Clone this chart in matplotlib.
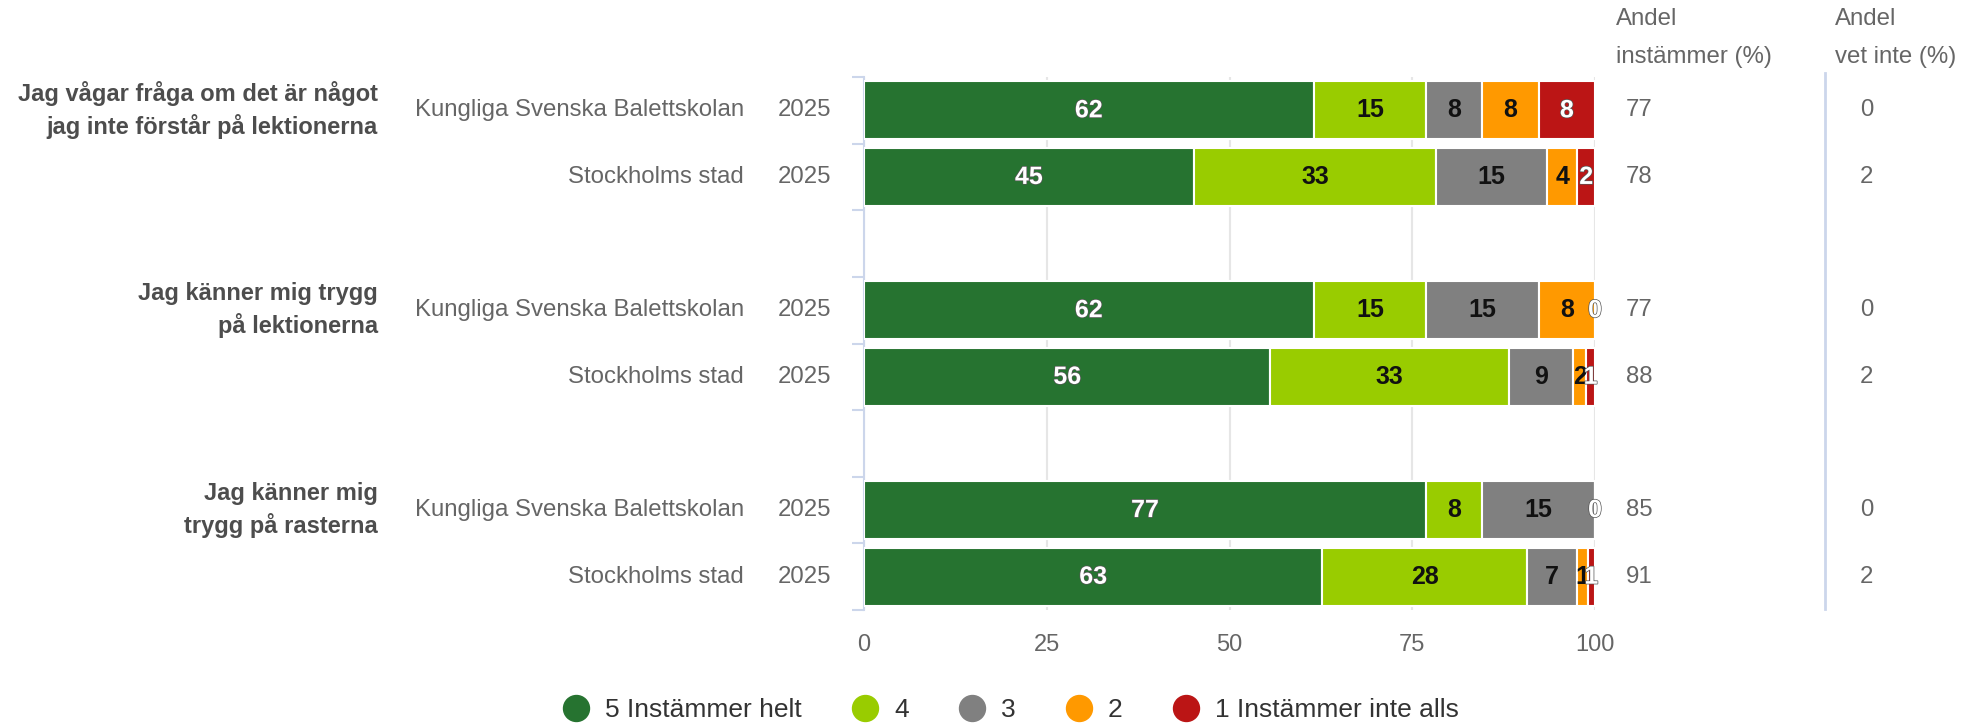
import numpy as np
import matplotlib.pyplot as plt
import matplotlib.transforms as mtransforms
import matplotlib.patheffects as pe
from matplotlib.lines import Line2D

plt.rcParams['font.family'] = ['Liberation Sans', 'DejaVu Sans']

# data
questions = ['Jag vågar fråga om det är något\njag inte förstår på lektionerna',
             'Jag känner mig trygg\npå lektionerna',
             'Jag känner mig\ntrygg på rasterna']
schools = ['Kungliga Svenska Balettskolan', 'Stockholms stad'] * 3
years = ['2025'] * 6
row_pos = [0, 1, 3, 4, 6, 7]

series_names = ['5 Instämmer helt', '4', '3', '2', '1 Instämmer inte alls']
s5 = [61.5, 45.1, 61.5, 55.6, 76.9, 62.7]
s4 = [15.4, 33.2, 15.4, 32.6, 7.7, 28.0]
s3 = [7.7, 15.1, 15.4, 8.8, 15.4, 6.9]
s2 = [7.7, 4.2, 7.7, 1.8, 0.0, 1.4]
s1 = [7.7, 2.4, 0.0, 1.2, 0.0, 1.0]
andel_instammer = [77, 78, 77, 88, 85, 91]
andel_vet_inte = [0, 2, 0, 2, 0, 2]

colors = ['#267330', '#99cc00', '#808080', '#ff9900', '#bb1515']
label_colors = ['white', '#111111', '#111111', '#111111', 'white']

W, H = 1978, 727
fig = plt.figure(figsize=(W / 100, H / 100), dpi=100)
ax = fig.add_axes([864 / W, 1 - 610 / H, 731 / W, 533 / H])

left = np.zeros(len(row_pos))
for k, (vals, name) in enumerate(zip([s5, s4, s3, s2, s1], series_names)):
    vals = np.array(vals)
    ax.barh(row_pos, vals, left=left, height=0.87, color=colors[k],
            edgecolor='white', linewidth=1.5, label=name, zorder=3)
    for y, l, v in zip(row_pos, left, vals):
        # only the last zero in a row gets a label (others overlap)
        if v == 0 and k < 4:
            continue
        t = ax.text(l + v / 2, y, f'{v:.0f}', ha='center', va='center',
                    fontsize=18, fontweight='bold', color=label_colors[k],
                    zorder=5, clip_on=False)
        if label_colors[k] == 'white':
            t.set_path_effects([pe.withStroke(linewidth=1, foreground='#555555')])
    left += vals

ax.set_xlim(0, 100)
ax.set_ylim(7.5, -0.5)
ax.set_xticks([0, 25, 50, 75, 100])
ax.grid(axis='x', color='#e6e6e6', linewidth=1.5, zorder=0)
ax.tick_params(axis='x', length=0, labelsize=17, labelcolor='#666666', pad=17)
ax.set_yticks(np.arange(-0.5, 8, 1))
ax.set_yticklabels([])
ax.tick_params(axis='y', length=9, width=1.5, color='#ccd6eb')
for sp in ['top', 'right', 'bottom']:
    ax.spines[sp].set_visible(False)
ax.spines['left'].set_color('#ccd6eb')
ax.spines['left'].set_linewidth(1.5)

tr = mtransforms.blended_transform_factory(fig.transFigure, ax.transData)
for i, y in enumerate(row_pos):
    ax.text(744 / W, y, schools[i], transform=tr, ha='right', va='center',
            fontsize=17.3, color='#666666')
    ax.text(831 / W, y, years[i], transform=tr, ha='right', va='center',
            fontsize=17.3, color='#666666')
    ax.text(1626 / W, y, str(andel_instammer[i]), transform=tr, ha='left',
            va='center', fontsize=17.3, color='#666666')
    ax.text(1860 / W, y, str(andel_vet_inte[i]), transform=tr, ha='left',
            va='center', fontsize=17.3, color='#666666')
for q, y in zip(questions, row_pos[::2]):
    ax.text(378 / W, y, q, transform=tr, ha='right', va='center',
            fontsize=17, fontweight='bold', color='#4d4d4d', linespacing=1.4)

fig.text(1616 / W, 1 - 38 / H, 'Andel\ninstämmer (%)', ha='left', va='center',
         fontsize=17.3, color='#666666', linespacing=1.9)
fig.text(1835 / W, 1 - 38 / H, 'Andel\nvet inte (%)', ha='left', va='center',
         fontsize=17.3, color='#666666', linespacing=1.9)
fig.add_artist(Line2D([1825 / W, 1825 / W], [1 - 73 / H, 1 - 609 / H],
                      transform=fig.transFigure, color='#ccd6eb', linewidth=2))

handles = [Line2D([], [], marker='o', linestyle='none', markersize=18.7,
                  color=c) for c in colors]
leg = fig.legend(handles, series_names, loc='center', ncol=5,
                 bbox_to_anchor=(0.5111, 0.0234), frameon=False, fontsize=19,
                 handlelength=1.0, handletextpad=0.6, columnspacing=1.9,
                 borderpad=0)
for t in leg.get_texts():
    t.set_color('#333333')

fig.savefig('out.png', dpi=100)
